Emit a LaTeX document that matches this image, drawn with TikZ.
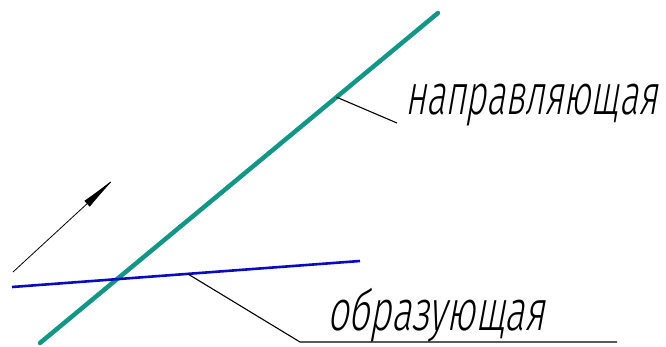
\documentclass[tikz,border=0pt]{standalone}
\usepackage{fontspec}
\usepackage{graphicx}
\usetikzlibrary{arrows.meta,calc}
\newfontfamily\gostfont[FakeSlant=0.28]{Fira Sans Light}
\definecolor{guide}{RGB}{20,150,135}
\definecolor{gen}{RGB}{10,10,190}
\tikzset{
  guideline/.style={draw=guide,line width=4.5pt},
  genline/.style={draw=gen,line width=2.6pt},
  leader/.style={draw=black,line width=1.1pt},
  motion/.style={draw=black,line width=0.8pt,-{Latex[length=38pt,width=8pt]}},
  lbl/.style={inner sep=0pt,anchor=base west,font=\fontsize{57}{64}\gostfont}
}
\begin{document}
\begin{tikzpicture}[x=1pt,y=-1pt]
\useasboundingbox (0,0) rectangle (666,347);
% guide line (направляющая)
\coordinate (g1) at (40,343);
\coordinate (g2) at (438,13);
\draw[guideline,line cap=round] (g1) -- (g2);
% generatrix (образующая)
\coordinate (b1) at (12,287);
\coordinate (b2) at (360,261);
\draw[genline] (b1) -- (b2);
% motion arrow
\coordinate (m1) at (13,272);
\coordinate (m2) at (115,178);
\draw[motion] (m1) -- (m2);
% labels
\node[lbl] (tguide) at (405,115) {\resizebox{252pt}{\height}{направляющая}};
\node[lbl] (tgen) at (327,330) {\resizebox{218pt}{\height}{образующая}};
% leaders
\coordinate (l1) at ($(g1)!0.745!(g2)$);
\coordinate (l1e) at (397,123);
\draw[leader] (l1) -- (l1e);
\coordinate (l2) at ($(b1)!0.505!(b2)$);
\coordinate (l2k) at (300,342);
\coordinate (l2e) at (617,342);
\draw[leader] (l2) -- (l2k) -- (l2e);
\end{tikzpicture}
\end{document}
